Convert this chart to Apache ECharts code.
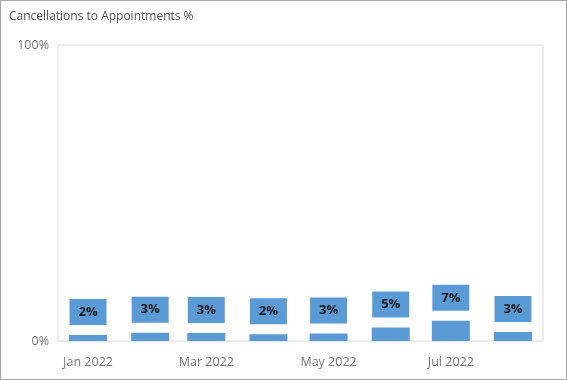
<!DOCTYPE html>
<html><head><meta charset="utf-8">
<script src="https://cdn.jsdelivr.net/npm/echarts@6/dist/echarts.min.js"></script>
<style>
html,body{margin:0;padding:0;background:#fff;}
#c{width:567px;height:380px;box-sizing:border-box;border:1px solid #a6a6a6;}
</style></head><body>
<div id="c"></div>
<script>
const months = ['2022-01-01','2022-02-01','2022-03-01','2022-04-01','2022-05-01','2022-06-01','2022-07-01','2022-08-01'];
const values = [2.0, 2.8, 2.7, 2.3, 2.5, 4.6, 6.8, 3.0];
const labelMonths = ['Jan','Mar','May','Jul'];
const monthNames = ['Jan','Feb','Mar','Apr','May','Jun','Jul','Aug','Sep','Oct','Nov','Dec'];
const yTicks = [0, 100];
const xMin = '2021-12-26T12:00:00';
const xMax = '2022-08-06T12:00:00';

const chart = echarts.init(document.getElementById('c'), null, {renderer:'canvas'});
const font = '"Open Sans", "DejaVu Sans", sans-serif';
chart.setOption({
  animation:false,
  textStyle:{fontFamily:font},
  title:{text:'Cancellations to Appointments %', left:3, top:5,
    textStyle:{fontSize:12, fontWeight:'normal', color:'#505050', fontFamily:font}},
  grid:{left:57, right:23, top:44, bottom:38, show:true, borderColor:'#d9d9d9', borderWidth:1},
  xAxis:{type:'time',
    min:+new Date(xMin), max:+new Date(xMax),
    minInterval:58*86400000,
    axisLine:{show:false}, axisTick:{show:false}, splitLine:{show:false},
    axisLabel:{color:'#777', fontSize:12.5, margin:15, fontFamily:font,
      formatter:function(v){const d=new Date(v); if(d.getDate()!==1) return ''; const m=monthNames[d.getMonth()]; return labelMonths.indexOf(m)>=0 ? m+' '+d.getFullYear() : '';}}
  },
  yAxis:{type:'value', min:yTicks[0], max:yTicks[1], interval:100,
    axisLine:{show:false}, axisTick:{show:false}, splitLine:{show:false},
    axisLabel:{color:'#777', fontSize:12.5, margin:9, fontFamily:font, formatter:v=>v+'%'}},
  series:[{type:'bar', barWidth:38,
    data:months.map((m,i)=>[m, values[i]]),
    itemStyle:{color:'#5b9bd5'},
    label:{show:true, position:'top', distance:10,
      formatter:p=>Math.round(p.value[1])+'%',
      backgroundColor:'#5b9bd5', width:37, padding:[6,0,6,0], align:'center',
      lineHeight:14, color:'#1a1a1a', fontWeight:'bold', fontSize:13, fontFamily:font}
  }]
});
</script>
</body></html>
